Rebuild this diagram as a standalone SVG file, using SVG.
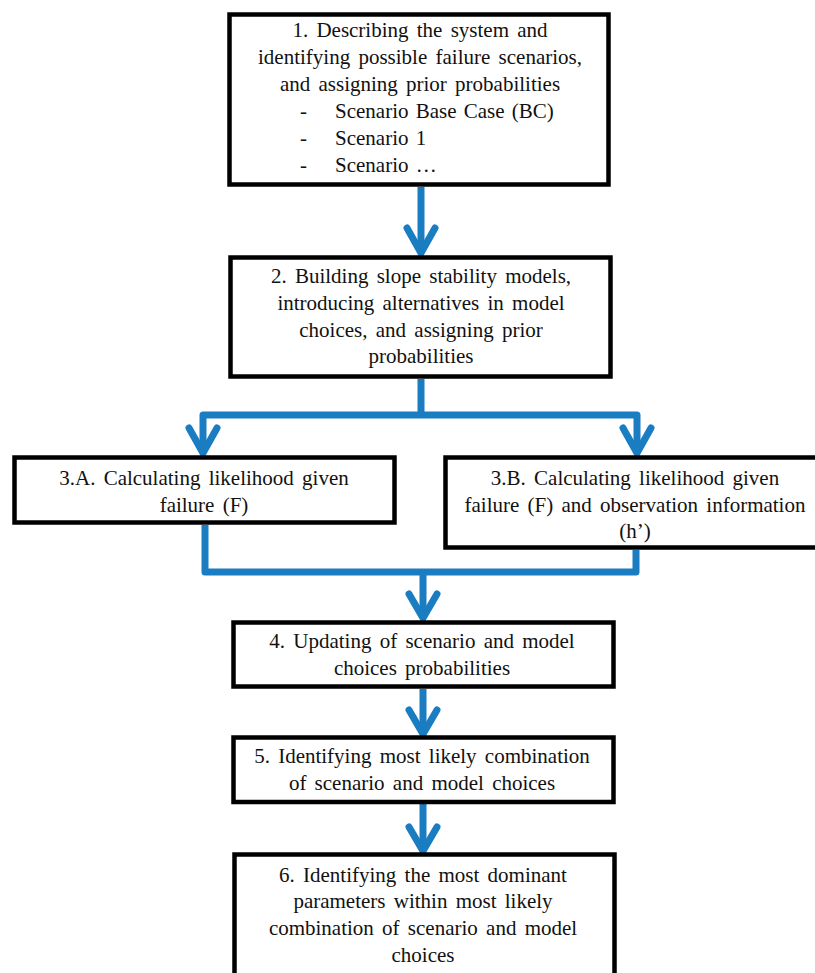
<svg xmlns="http://www.w3.org/2000/svg" width="815" height="973" viewBox="0 0 815 973">
<style>
.box{fill:#fff;stroke:#000;stroke-width:4.5}
.t{font-family:"Liberation Serif","Times New Roman",serif;font-size:21px;fill:#111;text-anchor:middle;word-spacing:3px}
.tl{font-family:"Liberation Serif","Times New Roman",serif;font-size:21px;fill:#111;word-spacing:2px}
.c{fill:none;stroke:#1a7dc2;stroke-width:7;stroke-linejoin:round}
.h{fill:none;stroke:#1a7dc2;stroke-width:7;stroke-linecap:round;stroke-linejoin:miter}
</style>
<rect width="815" height="973" fill="#fff"/>
<g id="connectors">
<path class="c" d="M421 187V252"/>
<path class="h" d="M407 228L421 253L435 228"/>
<path class="c" d="M421 379V415M203 452V415H637V452"/>
<path class="h" d="M189 428L203 453L217 428"/>
<path class="h" d="M623 428L637 453L651 428"/>
<path class="c" d="M205 525V572H636V550M423 572V617"/>
<path class="h" d="M409 594L423 618L437 594"/>
<path class="c" d="M423 689V732"/>
<path class="h" d="M409 710L423 734L437 710"/>
<path class="c" d="M423 804V849"/>
<path class="h" d="M409 827L423 851L437 827"/>
</g>
<g id="node1">
<rect class="box" x="229.5" y="14.5" width="379" height="170"/>
<text class="t" x="420" y="37">1. Describing the system and</text>
<text class="t" x="420" y="64">identifying possible failure scenarios,</text>
<text class="t" x="420" y="91">and assigning prior probabilities</text>
<text class="tl" x="300" y="118">-</text><text class="tl" x="335" y="118">Scenario Base Case (BC)</text>
<text class="tl" x="300" y="145">-</text><text class="tl" x="335" y="145">Scenario 1</text>
<text class="tl" x="300" y="172">-</text><text class="tl" x="335" y="172">Scenario …</text>
</g>
<g id="node2">
<rect class="box" x="230.5" y="257.5" width="380" height="119"/>
<text class="t" x="421" y="283">2. Building slope stability models,</text>
<text class="t" x="421" y="310">introducing alternatives in model</text>
<text class="t" x="421" y="337">choices, and assigning prior</text>
<text class="t" x="421" y="363">probabilities</text>
</g>
<g id="node3a">
<rect class="box" x="14.5" y="457.5" width="380" height="65"/>
<text class="t" x="204" y="485">3.A. Calculating likelihood given</text>
<text class="t" x="204" y="512">failure (F)</text>
</g>
<g id="node3b">
<rect class="box" x="445.5" y="457.5" width="380" height="90"/>
<text class="t" x="635" y="485">3.B. Calculating likelihood given</text>
<text class="t" x="635" y="512">failure (F) and observation information</text>
<text class="t" x="635" y="538">(h’)</text>
</g>
<g id="node4">
<rect class="box" x="233.5" y="622.5" width="380" height="64"/>
<text class="t" x="422" y="648">4. Updating of scenario and model</text>
<text class="t" x="422" y="675">choices probabilities</text>
</g>
<g id="node5">
<rect class="box" x="233.5" y="737.5" width="380" height="64.5"/>
<text class="t" x="422" y="763">5. Identifying most likely combination</text>
<text class="t" x="422" y="790">of scenario and model choices</text>
</g>
<g id="node6">
<rect class="box" x="234.5" y="854.5" width="380" height="130"/>
<text class="t" x="423" y="882">6. Identifying the most dominant</text>
<text class="t" x="423" y="908">parameters within most likely</text>
<text class="t" x="423" y="935">combination of scenario and model</text>
<text class="t" x="423" y="962">choices</text>
</g>
</svg>
